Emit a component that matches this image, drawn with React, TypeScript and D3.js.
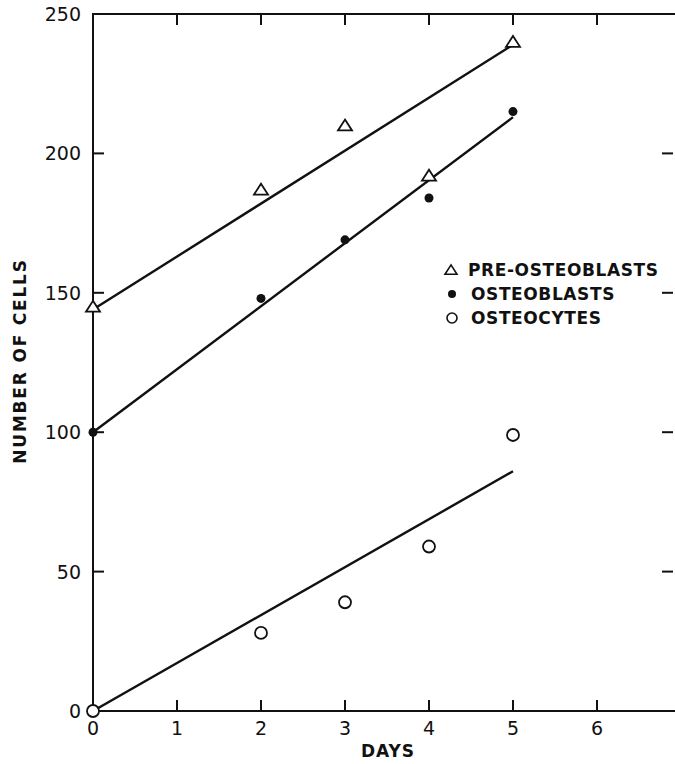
import React from 'react';
import * as d3 from 'd3';

const days = [0, 2, 3, 4, 5];
const preOsteoblasts = [145, 187, 210, 192, 240];
const osteoblasts = [100, 148, 169, 184, 215];
const osteocytes = [0, 28, 39, 59, 99];

// fitted lines: [start day, value], [end day, value]
const preFit = [[0, 144], [5, 239]];
const obFit = [[0, 100], [5, 213]];
const ocFit = [[0, 0], [5, 86]];

const xTicks = [0, 1, 2, 3, 4, 5, 6];
const yTicks = [0, 50, 100, 150, 200, 250];
const legendItems = ["PRE-OSTEOBLASTS", "OSTEOBLASTS", "OSTEOCYTES"];

const width = 675;
const height = 764;
const font = "'DejaVu Sans', sans-serif";

const App = () => {
	const x = d3.scaleLinear().domain([0, 7]).range([93, 681]);
	const y = d3.scaleLinear().domain([0, 250]).range([711, 14]);
	const line = d3.line<number[]>().x(d => x(d[0])).y(d => y(d[1]));

	const triangle = (cx: number, cy: number, s: number) =>
		`M ${cx} ${cy - s * 0.85} L ${cx + s} ${cy + s * 0.7} L ${cx - s} ${cy + s * 0.7} Z`;

	const tickLen = 11;

	return (
		<svg width={width} height={height}
			style={{ position: 'absolute', left: 0, top: 0, background: '#fff' }}>
			<g stroke="#111" strokeWidth={2} fill="none">
				<rect x={x(0)} y={y(250)} width={x(7) - x(0)} height={y(0) - y(250)} />
				{ xTicks.slice(1).map(t => (
					<g key={`xt${t}`}>
						<line x1={x(t)} x2={x(t)} y1={y(0)} y2={y(0) - tickLen} />
						<line x1={x(t)} x2={x(t)} y1={y(250)} y2={y(250) + tickLen} />
					</g>
				)) }
				{ yTicks.slice(1, -1).map(t => (
					<g key={`yt${t}`}>
						<line x1={x(0)} x2={x(0) + tickLen} y1={y(t)} y2={y(t)} />
						<line x1={673} x2={673 - tickLen} y1={y(t)} y2={y(t)} />
					</g>
				)) }
			</g>
			<g stroke="#111" strokeWidth={2.4} fill="none">
				<path d={line(preFit) || ''} />
				<path d={line(obFit) || ''} />
				<path d={line(ocFit) || ''} />
			</g>

			<g fontFamily={font} fontSize={19} fill="#111">
				{ xTicks.map(t => (
					<text key={`xl${t}`} x={x(t)} y={y(0) + 24} textAnchor="middle">{t}</text>
				)) }
				{ yTicks.map(t => (
					<text key={`yl${t}`} x={x(0) - 12} y={y(t) + 7} textAnchor="end">{t}</text>
				)) }
			</g>

			<text x={388} y={757} textAnchor="middle" letterSpacing={1}
				fontFamily={font} fontSize={17} fontWeight="bold" fill="#111">DAYS</text>
			<text transform={`translate(26,361)rotate(-90)`} textAnchor="middle" letterSpacing={1.8}
				fontFamily={font} fontSize={17} fontWeight="bold" fill="#111">NUMBER OF CELLS</text>

			<g>
				{ days.map((d, i) => (
					<path key={`pre${d}`} d={triangle(x(d), y(preOsteoblasts[i]), 7)}
						fill="#fff" stroke="#111" strokeWidth={1.8} />
				)) }
				{ days.map((d, i) => (
					<circle key={`ob${d}`} cx={x(d)} cy={y(osteoblasts[i])} r={4.5} fill="#111" />
				)) }
				{ days.map((d, i) => (
					<circle key={`oc${d}`} cx={x(d)} cy={y(osteocytes[i])} r={6} fill="#fff"
						stroke="#111" strokeWidth={1.8} />
				)) }
			</g>

			<g fontFamily={font} fontSize={17} fontWeight="bold" fill="#111" letterSpacing={0.6}>
				{ legendItems.map((name, i) => {
					const ly = 270 + i * 24;
					return (
						<g key={name}>
							{ i === 0 && <path d={triangle(451, ly, 6)} fill="#fff" stroke="#111" strokeWidth={1.6} /> }
							{ i === 1 && <circle cx={452} cy={ly} r={4} fill="#111" /> }
							{ i === 2 && <circle cx={452} cy={ly} r={5} fill="#fff" stroke="#111" strokeWidth={1.6} /> }
							<text x={i === 0 ? 468 : 471} y={ly + 6}>{name}</text>
						</g>
					);
				}) }
			</g>
		</svg>
	);
};

export default App;
